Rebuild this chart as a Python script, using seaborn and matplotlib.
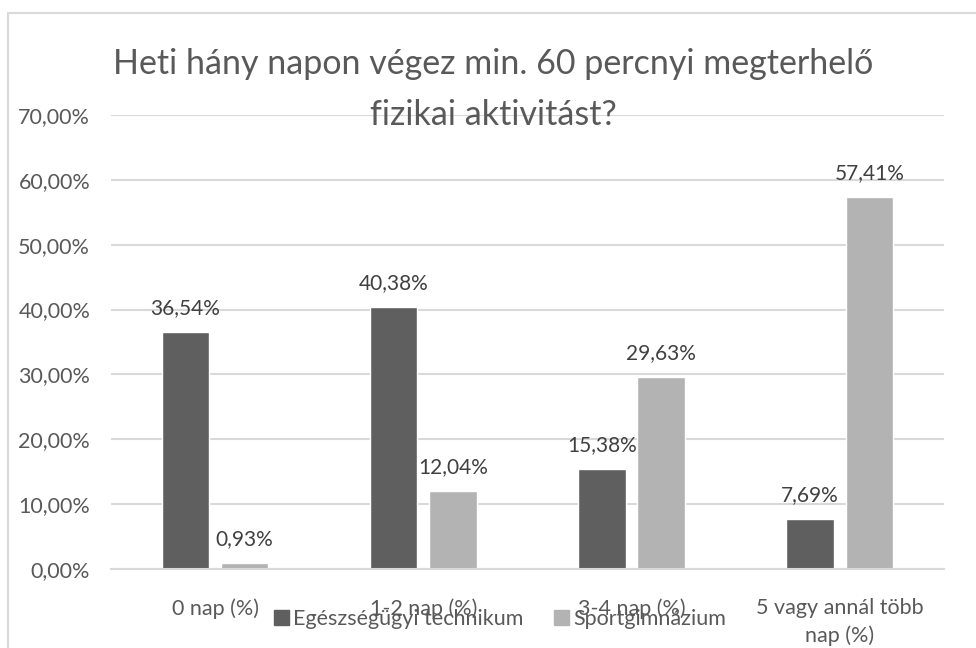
import numpy as np
import pandas as pd
import seaborn as sns
import matplotlib.pyplot as plt
from matplotlib.patches import Rectangle

# Data
categories = ['0 nap (%)', '1-2 nap (%)', '3-4 nap (%)', '5 vagy annál több\nnap (%)']
series_names = ['Egészségügyi technikum', 'Sportgimnázium']
egeszsegugyi = [36.54, 40.38, 15.38, 7.69]
sportgimn = [0.93, 12.04, 29.63, 57.41]
y_ticks = [0, 10, 20, 30, 40, 50, 60, 70]

title = 'Heti hány napon végez min. 60 percnyi megterhelő\nfizikai aktivitást?'

df = pd.DataFrame({
    'kategoria': categories * 2,
    'csoport': [series_names[0]] * 4 + [series_names[1]] * 4,
    'ertek': egeszsegugyi + sportgimn,
})

sns.set_style("white")
plt.rcParams['font.family'] = ['Lato', 'DejaVu Sans']

text_color = '#595959'
palette = {series_names[0]: '#5F5F5F', series_names[1]: '#B3B3B3'}
fs = 15.5

fig = plt.figure(figsize=(9.76, 6.48), dpi=100)
ax = fig.add_axes([0.1137, 0.1219, 0.967 - 0.1137, 0.8225 - 0.1219])

sns.barplot(data=df, x='kategoria', y='ertek', hue='csoport', palette=palette,
            width=0.57, gap=0.2, ax=ax, legend=False, saturation=1, zorder=2)

# value labels
for cont in ax.containers:
    ax.bar_label(cont, labels=[f'{v:.2f}%'.replace('.', ',') for v in cont.datavalues],
                 padding=10, fontsize=15, color='#404040')

ax.set_ylim(0, 70)
ax.set_yticks(y_ticks)
ax.set_yticklabels([f'{t:.2f}%'.replace('.', ',') for t in y_ticks], fontsize=fs, color=text_color)
ax.set_xticks(range(len(categories)))
ax.set_xticklabels(categories, fontsize=fs, color=text_color, linespacing=1.45)
ax.set_xlim(-0.5, 3.5)
ax.set_xlabel('')
ax.set_ylabel('')
ax.tick_params(axis='both', length=0)
ax.tick_params(axis='y', pad=15)
ax.tick_params(axis='x', pad=21)
ax.yaxis.grid(True, color='#D9D9D9', linewidth=1.5, zorder=0)
ax.set_axisbelow(True)
sns.despine(ax=ax, left=True, top=True, right=True)
ax.spines['bottom'].set_color('#D9D9D9')
ax.spines['bottom'].set_linewidth(1.5)

# legend overlapping the tick labels, as in the original
handles = [plt.Rectangle((0, 0), 1, 1, color=palette[n]) for n in series_names]
fig.legend(handles, series_names, loc='center', bbox_to_anchor=(0.512, 0.045),
           ncol=2, frameon=False, fontsize=fs, handlelength=0.7, handleheight=0.7,
           handletextpad=0.2, columnspacing=1.4, labelcolor=text_color)

fig.text(0.505, 0.862, title, ha='center', va='center', fontsize=24.5,
         color=text_color, linespacing=1.75)

# chart frame
fig.patches.append(Rectangle((8 / 976, -0.1), 1.2, 1 - 13 / 648 + 0.1,
                             transform=fig.transFigure, fill=False,
                             edgecolor='#D9D9D9', linewidth=1.5))

fig.savefig('out.png', dpi=100)
